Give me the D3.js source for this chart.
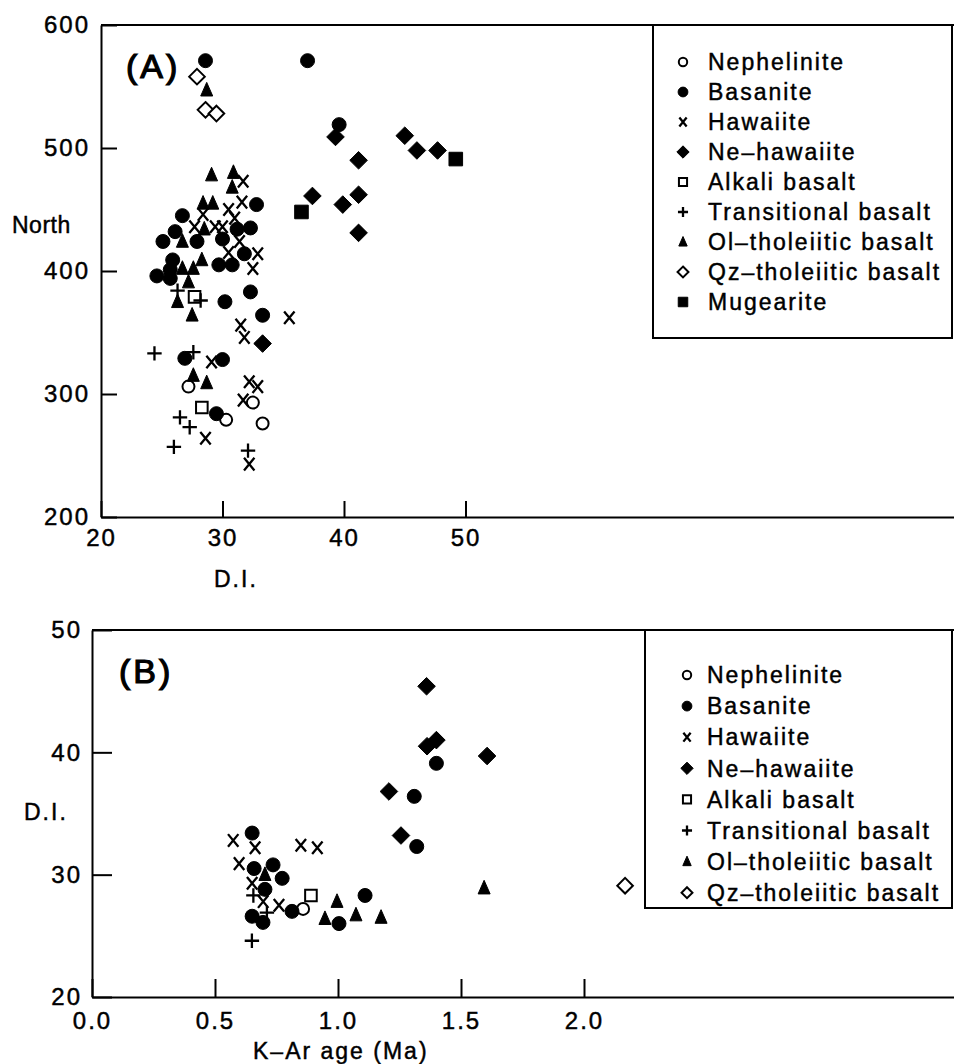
<!DOCTYPE html>
<html>
<head>
<meta charset="utf-8">
<script src="https://cdn.jsdelivr.net/npm/d3@7"></script>
<style>
	body { margin: 0; background: #fff; }
	text { font-family: "Liberation Sans", Arial, sans-serif; fill: #000; stroke: #000; stroke-width: 0.45px; }
</style>
</head>
<body>
<div id="chart"></div>
<script>
// Panel A: D.I. (x) vs North (y)
var aNephelinite = [[27.2,306],[32.5,293],[30.3,279],[33.3,276]];
var aBasanite = [[28.6,571],[37.0,571],[39.6,519],[32.8,454],[26.7,445],[31.2,434],[32.3,435],[26.1,432],[25.1,424],[27.9,424],[30.0,426],[31.8,414],[25.9,409],[29.7,405],[30.8,405],[25.7,401],[24.6,396],[25.7,394],[32.3,383],[30.2,375],[33.3,364],[26.9,329],[30.0,328],[29.5,284]];
var aHawaiite = [[31.7,473],[31.6,456],[30.5,450],[28.4,446],[31.0,443],[27.7,436],[29.4,436],[30.0,436],[31.4,424],[30.5,415],[32.9,414],[32.5,402],[35.5,362],[31.5,356],[31.8,346],[29.1,326],[32.2,310],[32.9,306],[31.7,295],[28.6,264],[32.2,243]];
var aNeHawaiite = [[39.3,509],[41.2,490],[45.0,510],[46.0,498],[47.7,498],[37.4,461],[39.9,454],[41.2,462],[41.2,431],[33.3,341]];
var aAlkali = [[27.7,379],[28.3,289]];
var aTransitional = [[26.3,384],[28.2,376],[24.4,333],[27.6,334],[26.5,281],[27.3,273],[26.0,257],[32.1,254]];
var aOlTholeiitic = [[28.7,547],[29.1,478],[30.9,480],[30.8,468],[28.4,455],[29.2,455],[28.5,434],[26.7,424],[28.3,409],[26.7,402],[27.6,402],[27.2,391],[26.3,375],[27.5,364],[27.6,315],[28.7,309]];
var aQzTholeiitic = [[27.9,558],[28.6,531],[29.5,528]];
var aMugearite = [[49.2,491],[36.5,448]];

// Panel B: K-Ar age (x) vs D.I. (y)
var bNephelinite = [[0.858,27.2]];
var bBasanite = [[1.40,39.1],[1.31,36.4],[1.32,32.3],[0.651,33.4],[0.659,30.5],[0.736,30.8],[0.773,29.7],[0.703,28.8],[1.11,28.3],[0.813,27.0],[0.651,26.6],[0.695,26.1],[1.004,26.0]];
var bHawaiite = [[0.574,32.8],[0.663,32.2],[0.849,32.4],[0.916,32.2],[0.598,30.9],[0.651,29.3],[0.696,27.8],[0.760,27.5]];
var bNeHawaiite = [[1.36,45.4],[1.362,40.5],[1.40,41.0],[1.606,39.7],[1.207,36.8],[1.256,33.2]];
var bAlkali = [[0.890,28.3]];
var bTransitional = [[0.656,28.3],[0.711,26.9],[0.650,24.6]];
var bOlTholeiitic = [[0.703,30.0],[0.996,27.8],[0.947,26.4],[1.073,26.7],[1.175,26.5],[1.594,28.9]];
var bQzTholeiitic = [[2.167,29.1]];

var rockNames = ["Nephelinite","Basanite","Hawaiite","Ne–hawaiite","Alkali basalt","Transitional basalt","Ol–tholeiitic basalt","Qz–tholeiitic basalt","Mugearite"];
var rockShapes = ["circleOpen","circle","times","diamond","squareOpen","plus","triangle","diamondOpen","square"];

var aTicksX = [20,30,40,50], aTicksY = [200,300,400,500,600];
var bTicksX = [0,0.5,1.0,1.5,2.0], bTicksY = [20,30,40,50];

var svg = d3.select("#chart").append("svg")
	.attr("width", 954)
	.attr("height", 1064);

// path for each marker kind, s = scale factor (1 in plot, smaller in legend)
function shapePath(shape, s) {
	var p = d3.path();
	if (shape == "circle" || shape == "circleOpen") {
		var r = (shape == "circle" ? 7 : 6) * s;
		p.arc(0, 0, r, 0, 2 * Math.PI);
	} else if (shape == "diamond" || shape == "diamondOpen") {
		var r = (shape == "diamond" ? 8.8 : 7.8) * s;
		p.moveTo(0, -r); p.lineTo(r, 0); p.lineTo(0, r); p.lineTo(-r, 0); p.closePath();
	} else if (shape == "square" || shape == "squareOpen") {
		var h = (shape == "square" ? 6.8 : 5.8) * s;
		p.rect(-h, -h, 2 * h, 2 * h);
	} else if (shape == "triangle") {
		var w = 6 * s, t = 7.8 * s, b = 5.8 * s;
		p.moveTo(0, -t); p.lineTo(w, b); p.lineTo(-w, b); p.closePath();
	} else if (shape == "times") {
		var a = 5.2 * s, c = 6.3 * s;
		p.moveTo(-a, -c); p.lineTo(a, c); p.moveTo(-a, c); p.lineTo(a, -c);
	} else if (shape == "plus") {
		var a = 7.2 * s;
		p.moveTo(-a, 0); p.lineTo(a, 0); p.moveTo(0, -a); p.lineTo(0, a);
	}
	return p.toString();
}

function styleShape(sel, shape) {
	var line = shape == "times" || shape == "plus";
	var open = shape == "circleOpen" || shape == "diamondOpen" || shape == "squareOpen";
	sel.attr("fill", line ? "none" : (open ? "#fff" : "#000"))
		.attr("stroke", "#000")
		.attr("stroke-width", line ? 2.3 : (open ? 2 : 1));
}

function drawPanel(opt) {
	var g = svg.append("g")
		.attr("transform", "translate(" + opt.left + "," + opt.top + ")");

	var x = d3.scaleLinear().domain(opt.xDomain).range([0, opt.width]);
	var y = d3.scaleLinear().domain(opt.yDomain).range([opt.height, 0]);

	// top frame line
	g.append("line")
		.attr("x1", 0).attr("x2", opt.width)
		.attr("y1", 0).attr("y2", 0)
		.attr("stroke", "#000").attr("stroke-width", 2);

	var xAxis = d3.axisBottom(x)
		.tickValues(opt.xTicks)
		.tickFormat(opt.xFormat)
		.tickSizeInner(-opt.tickX)
		.tickSizeOuter(0)
		.tickPadding(opt.padX);
	var xg = g.append("g")
		.attr("transform", "translate(0," + opt.height + ")")
		.call(xAxis);

	var yAxis = d3.axisLeft(y)
		.tickValues(opt.yTicks)
		.tickSizeInner(-opt.tickY)
		.tickSizeOuter(0)
		.tickPadding(opt.padY);
	var yg = g.append("g").call(yAxis);

	[xg, yg].forEach(function(ax) {
		ax.select(".domain").attr("stroke-width", 2);
		ax.selectAll(".tick line").attr("stroke-width", 2);
		ax.selectAll("text")
			.attr("font-size", 24)
			.attr("font-family", "Liberation Sans, Arial, sans-serif")
			.attr("letter-spacing", 2)
			.attr("fill", "#000");
	});

	// points
	opt.series.forEach(function(data, i) {
		var shape = rockShapes[i];
		g.selectAll(".pt-" + i)
			.data(data)
			.enter()
			.append("path")
			.attr("class", "pt-" + i)
			.attr("d", shapePath(shape, 1))
			.attr("transform", function(d) {
				return "translate(" + x(d[0]) + "," + y(d[1]) + ")";
			})
			.call(styleShape, shape);
	});

	// panel letter
	svg.append("text")
		.attr("x", opt.labelX).attr("y", opt.labelY)
		.attr("font-size", 34)
		.attr("letter-spacing", 3)
		.style("stroke-width", "1.2px")
		.text(opt.label);

	// axis titles
	opt.titles.forEach(function(t) {
		svg.append("text")
			.attr("x", t.x).attr("y", t.y)
			.attr("font-size", 23)
			.attr("letter-spacing", t.ls)
			.text(t.text);
	});

	// legend box
	var lg = svg.append("g");
	lg.append("rect")
		.attr("x", opt.legend.x).attr("y", opt.top)
		.attr("width", 952 - opt.legend.x)
		.attr("height", opt.legend.bottom - opt.top)
		.attr("fill", "#fff")
		.attr("stroke", "#000").attr("stroke-width", 2);

	var rows = lg.selectAll(".legend-row")
		.data(d3.range(opt.series.length))
		.enter()
		.append("g")
		.attr("class", "legend-row")
		.attr("transform", function(i) {
			return "translate(0," + (opt.legend.y0 + i * opt.legend.step) + ")";
		});

	rows.append("path")
		.attr("transform", "translate(" + opt.legend.mx + ",0)")
		.each(function(i) {
			var shape = rockShapes[i];
			d3.select(this).attr("d", shapePath(shape, 0.7)).call(styleShape, shape);
		});

	rows.append("text")
		.attr("x", opt.legend.tx)
		.attr("dy", "0.36em")
		.attr("font-size", 23)
		.attr("letter-spacing", 2)
		.text(function(i) { return rockNames[i]; });
}

drawPanel({
	left: 101, top: 25, width: 853, height: 492,
	xDomain: [20, 20 + 853 / 12.15], yDomain: [200, 600],
	xTicks: aTicksX, yTicks: aTicksY,
	xFormat: d3.format("d"),
	tickX: 16, tickY: 16, padX: 12, padY: 11,
	series: [aNephelinite, aBasanite, aHawaiite, aNeHawaiite, aAlkali, aTransitional, aOlTholeiitic, aQzTholeiitic, aMugearite],
	label: "(A)", labelX: 126, labelY: 78,
	titles: [{x: 12, y: 233, text: "North", ls: 0.5}, {x: 214, y: 587, text: "D.I.", ls: 2}],
	legend: {x: 653, bottom: 338, y0: 62, step: 30, mx: 683, tx: 708}
});

drawPanel({
	left: 92, top: 630, width: 862, height: 367,
	xDomain: [0, 862 / 246], yDomain: [20, 50],
	xTicks: bTicksX, yTicks: bTicksY,
	xFormat: d3.format(".1f"),
	tickX: 18, tickY: 20, padX: 15, padY: 10,
	series: [bNephelinite, bBasanite, bHawaiite, bNeHawaiite, bAlkali, bTransitional, bOlTholeiitic, bQzTholeiitic],
	label: "(B)", labelX: 119, labelY: 683,
	titles: [{x: 24, y: 820, text: "D.I.", ls: 2}, {x: 253, y: 1059, text: "K–Ar age (Ma)", ls: 2}],
	legend: {x: 645, bottom: 908, y0: 675, step: 31.1, mx: 687, tx: 707}
});
</script>
</body>
</html>
